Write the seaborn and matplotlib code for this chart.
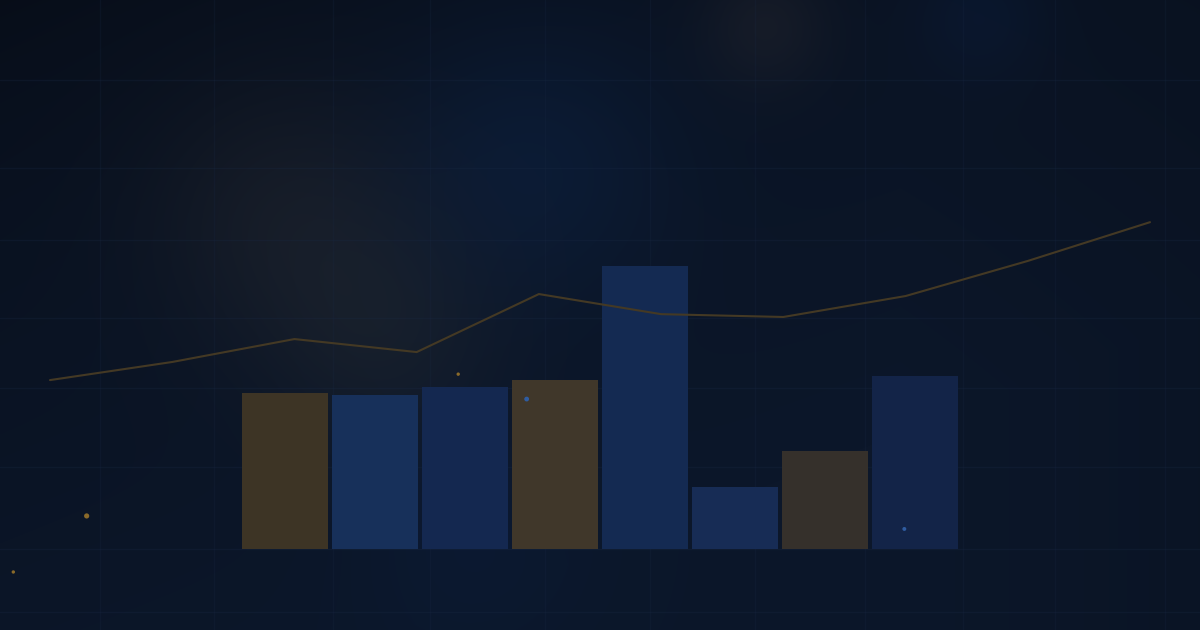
import numpy as np
import pandas as pd
import matplotlib
matplotlib.use('Agg')
import matplotlib.pyplot as plt
import seaborn as sns

sns.set_style("dark")
plt.rcParams['font.family'] = ['DejaVu Sans']

# 柱状图数据（8 个类别）
bar_labels = ["A", "B", "C", "D", "E", "F", "G", "H"]
bar_values = [55.1, 54.4, 57.2, 59.7, 100.0, 21.9, 34.6, 61.1]
bar_colors = ["#3d3425", "#17305a", "#142850", "#40372a",
              "#142a52", "#172c55", "#35302b", "#132448"]

# 折线数据（10 个点）
line_index = list(range(10))
line_values = [59.7, 66.1, 74.2, 69.6, 90.1, 83.0, 82.0, 89.4, 101.8, 115.5]

# 装饰性光点（折线坐标系中的位置）
spark_x = [0.30, -0.30, 3.34, 3.90, 6.99]
spark_y = [11.7, -8.1, 61.8, 53.0, 7.1]
spark_colors = ["#8a6a2a", "#8a6a2a", "#8a6a2a", "#2f5ca0", "#2f5ca0"]
spark_sizes = [14, 6, 6, 12, 8]

# 背景网格位置（像素）
grid_x = [100, 214, 333, 430, 545, 650, 755, 865, 963, 1055, 1165]
grid_y = [80, 168, 240, 318, 388, 467, 549, 612]

W, H = 1200, 630
Y_LO, Y_HI = -28.6, 194.0
X_LO, X_HI = -0.409, 9.409


def make_background():
    yy, xx = np.mgrid[0:H, 0:W].astype(float)
    t = np.clip((xx / W * 0.6 + yy / H * 0.8), 0, 1)
    c0 = np.array([7, 13, 24]) / 255.0
    c1 = np.array([12, 23, 42]) / 255.0
    img = c0 + (c1 - c0) * t[..., None] ** 0.6
    # 右侧略暗
    fade = np.clip((xx - 900) / 300, 0, 1)[..., None]
    img = img * (1 - 0.12 * fade)
    glows = [
        (283, 213, 95, (0.045, 0.035, 0.02)),
        (383, 335, 80, (0.035, 0.03, 0.015)),
        (765, 25, 45, (0.045, 0.032, 0.018)),
        (530, 160, 100, (0.005, 0.03, 0.065)),
        (980, 15, 45, (0.0, 0.015, 0.04)),
        (470, 540, 80, (0.0, 0.01, 0.03)),
    ]
    for gx, gy, r, col in glows:
        g = np.exp(-((xx - gx) ** 2 + (yy - gy) ** 2) / (2 * r ** 2))
        img = img + g[..., None] * np.array(col)
    # 底部区域
    img[549:] = img[549:] * 0.92 + np.array([11, 22, 40]) / 255.0 * 0.08
    return np.clip(img, 0, 1)


fig = plt.figure(figsize=(12, 6.3), dpi=100)

# 背景层
ax_bg = fig.add_axes([0, 0, 1, 1])
ax_bg.imshow(make_background(), extent=[0, W, H, 0], aspect='auto', zorder=0)
for gx in grid_x:
    ax_bg.axvline(gx, color="#1a2a45", lw=1, alpha=0.22, zorder=1)
for gy in grid_y:
    ax_bg.axhline(gy, color="#1a2a45", lw=1, alpha=0.28, zorder=1)
ax_bg.set_xlim(0, W)
ax_bg.set_ylim(H, 0)
ax_bg.axis('off')

# 柱状图层
ax_bar = fig.add_axes([0.2, 0, 0.6, 1])
df_bar = pd.DataFrame({"label": bar_labels, "value": bar_values})
sns.barplot(data=df_bar, x="label", y="value", hue="label",
            palette=bar_colors, width=0.956, saturation=1,
            legend=False, ax=ax_bar, linewidth=0)
ax_bar.set_xlim(-0.5, 7.5)
ax_bar.set_ylim(Y_LO, Y_HI)
ax_bar.patch.set_alpha(0)
ax_bar.axis('off')

# 折线图层
ax_line = fig.add_axes([0, 0, 1, 1])
df_line = pd.DataFrame({"i": line_index, "v": line_values})
sns.lineplot(data=df_line, x="i", y="v", color="#443924", lw=1.5, ax=ax_line)
ax_line.scatter(spark_x, spark_y, s=spark_sizes, c=spark_colors,
                linewidths=0, zorder=5)
ax_line.set_xlim(X_LO, X_HI)
ax_line.set_ylim(Y_LO, Y_HI)
ax_line.patch.set_alpha(0)
ax_line.axis('off')

plt.savefig("out.png", dpi=100)
plt.close()
